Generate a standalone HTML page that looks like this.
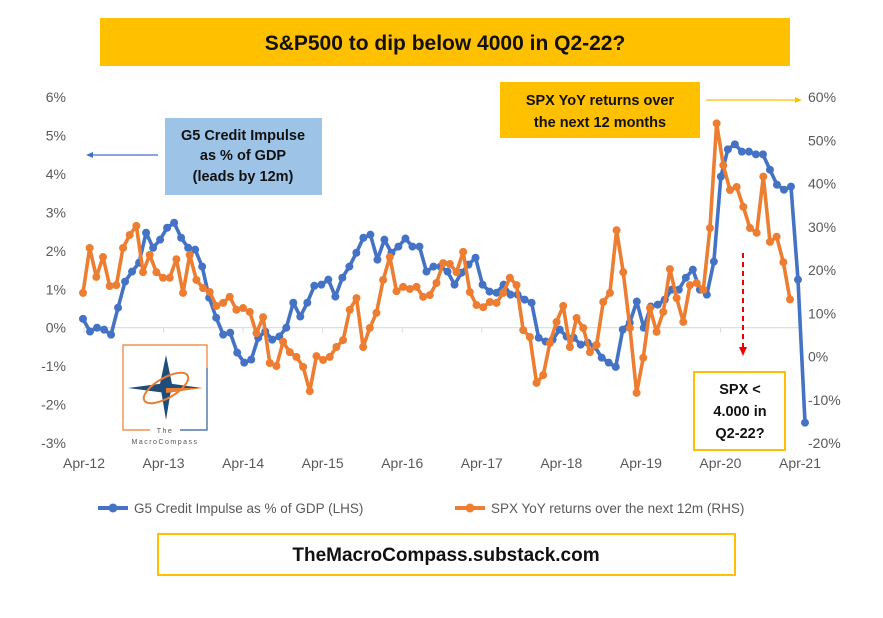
<!DOCTYPE html>
<html><head><meta charset="utf-8"><style>
body{margin:0;background:#fff;font-family:"Liberation Sans",Arial,sans-serif}
svg text{font-family:"Liberation Sans",Arial,sans-serif}
</style></head><body>
<svg id="c" width="883" height="613" viewBox="0 0 883 613" xmlns="http://www.w3.org/2000/svg">
<rect width="883" height="613" fill="#fff"/>
<rect x="100" y="18" width="690" height="48" fill="#FFC000"/>
<text x="445" y="50" text-anchor="middle" font-size="21" font-weight="bold" fill="#111">S&amp;P500 to dip below 4000 in Q2-22?</text>
<g id="axes"></g>
<g id="series"></g>
<rect x="165" y="118" width="157" height="77" fill="#9DC3E6"/>
<text text-anchor="middle" font-size="14.5" font-weight="bold" fill="#111"><tspan x="243" y="140">G5 Credit Impulse</tspan><tspan x="243" y="160">as % of GDP</tspan><tspan x="243" y="181">(leads by 12m)</tspan></text>
<line x1="158" y1="155" x2="92" y2="155" stroke="#4472C4" stroke-width="1.3"/>
<polygon points="86,155 93,152 93,158" fill="#4472C4"/>
<rect x="500" y="82" width="200" height="56" fill="#FFC000"/>
<text text-anchor="middle" font-size="14.5" font-weight="bold" fill="#111"><tspan x="600" y="105">SPX YoY returns over</tspan><tspan x="600" y="127">the next 12 months</tspan></text>
<line x1="706" y1="100" x2="795" y2="100" stroke="#FFC000" stroke-width="1.3"/>
<polygon points="802,100 795,97 795,103" fill="#FFC000"/>
<line x1="743" y1="253" x2="743" y2="348" stroke="#E00" stroke-width="2" stroke-dasharray="5,4"/>
<polygon points="743,356 739,347 747,347" fill="#E00"/>
<rect x="694" y="372" width="91" height="78" fill="#fff" stroke="#FFC000" stroke-width="2"/>
<text text-anchor="middle" font-size="14.5" font-weight="bold" fill="#111"><tspan x="740" y="394">SPX &lt;</tspan><tspan x="740" y="416">4.000 in</tspan><tspan x="740" y="438">Q2-22?</tspan></text>
<g>
<polyline points="207,368 207,345 123,345 123,430 150,430" fill="none" stroke="#ED7D31" stroke-width="1.2"/>
<polyline points="207,368 207,430 180,430" fill="none" stroke="#2E5C9A" stroke-width="1.2"/>
<polygon points="166,355 172,384 166,420 160,384" fill="#1F4E79"/>
<polygon points="128,388 166,383 202,388 166,393" fill="#1F4E79"/>
<polygon points="166,388 202,388 166,393" fill="#ED7D31"/>
<ellipse cx="166" cy="388" rx="25" ry="10" fill="none" stroke="#ED7D31" stroke-width="2" transform="rotate(-30 166 388)"/>
<text x="165" y="433" text-anchor="middle" font-size="7" fill="#555" letter-spacing="1.5">The</text>
<text x="165" y="444" text-anchor="middle" font-size="7" fill="#555" letter-spacing="1.5">MacroCompass</text>
</g>
<g>
<line x1="98" y1="508" x2="128" y2="508" stroke="#4472C4" stroke-width="4"/><circle cx="113" cy="508" r="4.5" fill="#4472C4"/>
<text x="134" y="513" font-size="13.5" fill="#595959">G5 Credit Impulse as % of GDP (LHS)</text>
<line x1="455" y1="508" x2="485" y2="508" stroke="#ED7D31" stroke-width="4"/><circle cx="470" cy="508" r="4.5" fill="#ED7D31"/>
<text x="491" y="513" font-size="13.5" fill="#595959">SPX YoY returns over the next 12m (RHS)</text>
</g>
<rect x="158" y="534" width="577" height="41" fill="#fff" stroke="#FFC000" stroke-width="2"/>
<text x="446" y="561" text-anchor="middle" font-size="19" font-weight="bold" fill="#111">TheMacroCompass.substack.com</text>
</svg>
<script>
const xLabels=["Apr-12","Apr-13","Apr-14","Apr-15","Apr-16","Apr-17","Apr-18","Apr-19","Apr-20","Apr-21"];
const lhsTicks=[6,5,4,3,2,1,0,-1,-2,-3];
const rhsTicks=[60,50,40,30,20,10,0,-10,-20];
const creditImpulse=[0.23,-0.10,0,-0.05,-0.18,0.52,1.2,1.46,1.69,2.47,2.08,2.29,2.6,2.73,2.34,2.08,2.03,1.59,0.78,0.26,-0.18,-0.13,-0.65,-0.91,-0.83,-0.26,-0.10,-0.31,-0.23,0,0.65,0.29,0.65,1.09,1.12,1.25,0.81,1.3,1.59,1.95,2.34,2.42,1.77,2.29,1.95,2.11,2.32,2.11,2.11,1.46,1.59,1.59,1.46,1.12,1.43,1.64,1.82,1.12,0.94,0.91,1.12,0.86,0.86,0.73,0.65,-0.26,-0.36,-0.31,-0.05,-0.23,-0.26,-0.44,-0.39,-0.49,-0.78,-0.91,-1.02,-0.05,0.13,0.68,0,0.55,0.6,0.73,0.99,0.99,1.3,1.51,0.99,0.86,1.72,3.93,4.64,4.77,4.58,4.58,4.51,4.51,4.11,3.72,3.59,3.67,1.25,-2.47];
const spxReturns=[14.7,25.1,18.4,23.0,16.3,16.5,25.1,28.1,30.2,19.5,23.5,19.5,18.2,18.2,22.5,14.7,23.5,17.7,15.8,14.9,11.7,12.4,13.8,10.8,11.2,10.3,5.4,9.1,-1.5,-2.2,3.4,1.0,-0.1,-2.4,-8.0,0.1,-0.8,-0.1,2.2,3.8,10.8,13.5,2.2,6.6,10.1,17.7,23.0,15.1,16.1,15.6,16.1,13.8,14.2,17.0,21.6,21.4,19.5,24.2,14.9,11.9,11.4,12.6,12.4,14.7,18.2,16.5,6.1,4.5,-6.1,-4.3,3.1,8.0,11.7,2.2,8.9,6.6,1.0,2.7,12.6,14.7,29.2,19.5,6.6,-8.4,-0.3,11.2,5.7,10.3,20.2,13.5,8.0,16.5,17.0,15.4,29.7,53.9,44.2,38.5,39.2,34.6,29.7,28.6,41.6,26.5,27.7,21.8,13.2];
const NS="http://www.w3.org/2000/svg";
const yL=v=>327.7-v*38.44;
const yR=v=>356.5-v*4.325;
const xCat=i=>84+i*(800-84)/(xLabels.length-1);
function mk(t,a,p){const e=document.createElementNS(NS,t);for(const k in a)e.setAttribute(k,a[k]);p.appendChild(e);return e;}
const ax=document.getElementById('axes'),sr=document.getElementById('series');
const base=mk('line',{x1:84,x2:800,y1:yL(0),y2:yL(0),stroke:'#D9D9D9','stroke-width':1.2},ax);


lhsTicks.forEach(v=>{const t=mk('text',{x:66,y:yL(v)+5,'text-anchor':'end','font-size':14,fill:'#595959'},ax);t.textContent=v+'%';

});
rhsTicks.forEach(v=>{const t=mk('text',{x:808,y:yR(v)+5,'font-size':14,fill:'#595959'},ax);t.textContent=v+'%';

});
xLabels.forEach((l,i)=>{const x=xCat(i);mk('line',{x1:x,x2:x,y1:yL(0),y2:yL(0)+5,stroke:'#D9D9D9'},ax);
const t=mk('text',{x:x,y:468,'text-anchor':'middle','font-size':14,fill:'#595959'},ax);t.textContent=l;

});
function draw(arr,yf,x0,x1,col,name){const n=arr.length;const xs=i=>x0+i*(x1-x0)/(n-1);
const p=mk('polyline',{points:arr.map((v,i)=>xs(i)+','+yf(v)).join(' '),fill:'none',stroke:col,'stroke-width':3.6,'stroke-linejoin':'round'},sr);


arr.forEach((v,i)=>{const c=mk('circle',{cx:xs(i),cy:yf(v),r:4,fill:col},sr);

});}
draw(creditImpulse,yL,83,805,'#4472C4','credit-impulse');
draw(spxReturns,yR,83,790,'#ED7D31','spx-returns');
</script>
</body></html>
